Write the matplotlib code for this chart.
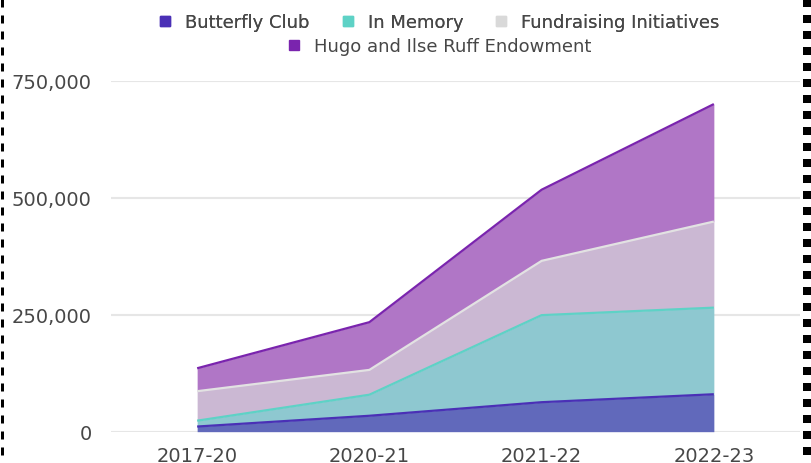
import numpy as np
import matplotlib.pyplot as plt
from matplotlib.lines import Line2D

plt.rcParams['font.family'] = ['DejaVu Sans']
plt.rcParams['lines.scale_dashes'] = False

years = ["2017-20", "2020-21", "2021-22", "2022-23"]
butterfly = [11000, 34000, 63000, 80000]
in_memory = [12500, 45000, 186000, 185000]
fundraising = [63000, 53000, 116000, 184000]
hugo = [49000, 102000, 152000, 251000]

names = ["Butterfly Club", "In Memory", "Fundraising Initiatives",
         "Hugo and Ilse Ruff Endowment"]
fills = ["#6169BB", "#8EC8D0", "#CBB8D3", "#B076C6"]
edges = ["#4A30B6", "#5ED2C6", "#E2E2E2", "#7A24AE"]
swatch = ["#4A30B6", "#5ED2C6", "#D9D9D9", "#7A24AE"]

text_col = "#474747"

fig = plt.figure(figsize=(8.11, 4.64), dpi=100)
ax = fig.add_axes([0.1369, 0.0675, 0.8495, 0.7565])

x = np.arange(len(years))
base = np.zeros(len(years))
for vals, fc, ec in zip([butterfly, in_memory, fundraising, hugo], fills, edges):
    top = base + np.array(vals)
    ax.fill_between(x, base, top, color=fc, linewidth=0, zorder=2)
    ax.plot(x, top, color=ec, linewidth=1.6, zorder=3, solid_capstyle='butt')
    base = top

ax.set_xlim(-0.5, 3.5)
ax.set_ylim(0, 750000)
ax.set_xticks(x)
ax.set_xticklabels(years)
ax.set_yticks([0, 250000, 500000, 750000])
ax.set_yticklabels(["0", "250,000", "500,000", "750,000"])
ax.tick_params(length=0, labelsize=14, labelcolor=text_col, pad=14)
ax.tick_params(axis='x', pad=10)
ax.grid(axis='y', color="#E6E6E6", linewidth=1.5, zorder=0)
ax.set_axisbelow(True)
for s in ax.spines.values():
    s.set_visible(False)

def handle(c):
    return Line2D([], [], marker='s', linestyle='none', markersize=6.5,
                  markerfacecolor=c, markeredgecolor=c)

leg1 = fig.legend([handle(c) for c in swatch[:3]], names[:3], ncol=3,
                  loc='center', bbox_to_anchor=(0.541, 1 - 23 / 464),
                  frameon=False, fontsize=13, labelcolor=text_col,
                  handlelength=0.8, handletextpad=0.7, columnspacing=1.7,
                  borderpad=0, borderaxespad=0)
leg2 = fig.legend([handle(swatch[3])], names[3:], loc='center',
                  bbox_to_anchor=(0.541, 1 - 47 / 464), frameon=False,
                  fontsize=13, labelcolor=text_col, handlelength=0.8,
                  handletextpad=0.7, borderpad=0, borderaxespad=0)
fig.add_artist(leg1)

# dashed frame pieces on the left and right edges
W, H = 811, 464
fig.add_artist(Line2D([1.5 / W, 1.5 / W], [1, 0], transform=fig.transFigure,
                      color='black', linewidth=3 * 0.72, dashes=(5.76, 5.76)))
fig.add_artist(Line2D([807 / W, 807 / W], [1, 0], transform=fig.transFigure,
                      color='black', linewidth=8 * 0.72, dashes=(5.76, 5.76)))

fig.savefig("out.png", dpi=100)
